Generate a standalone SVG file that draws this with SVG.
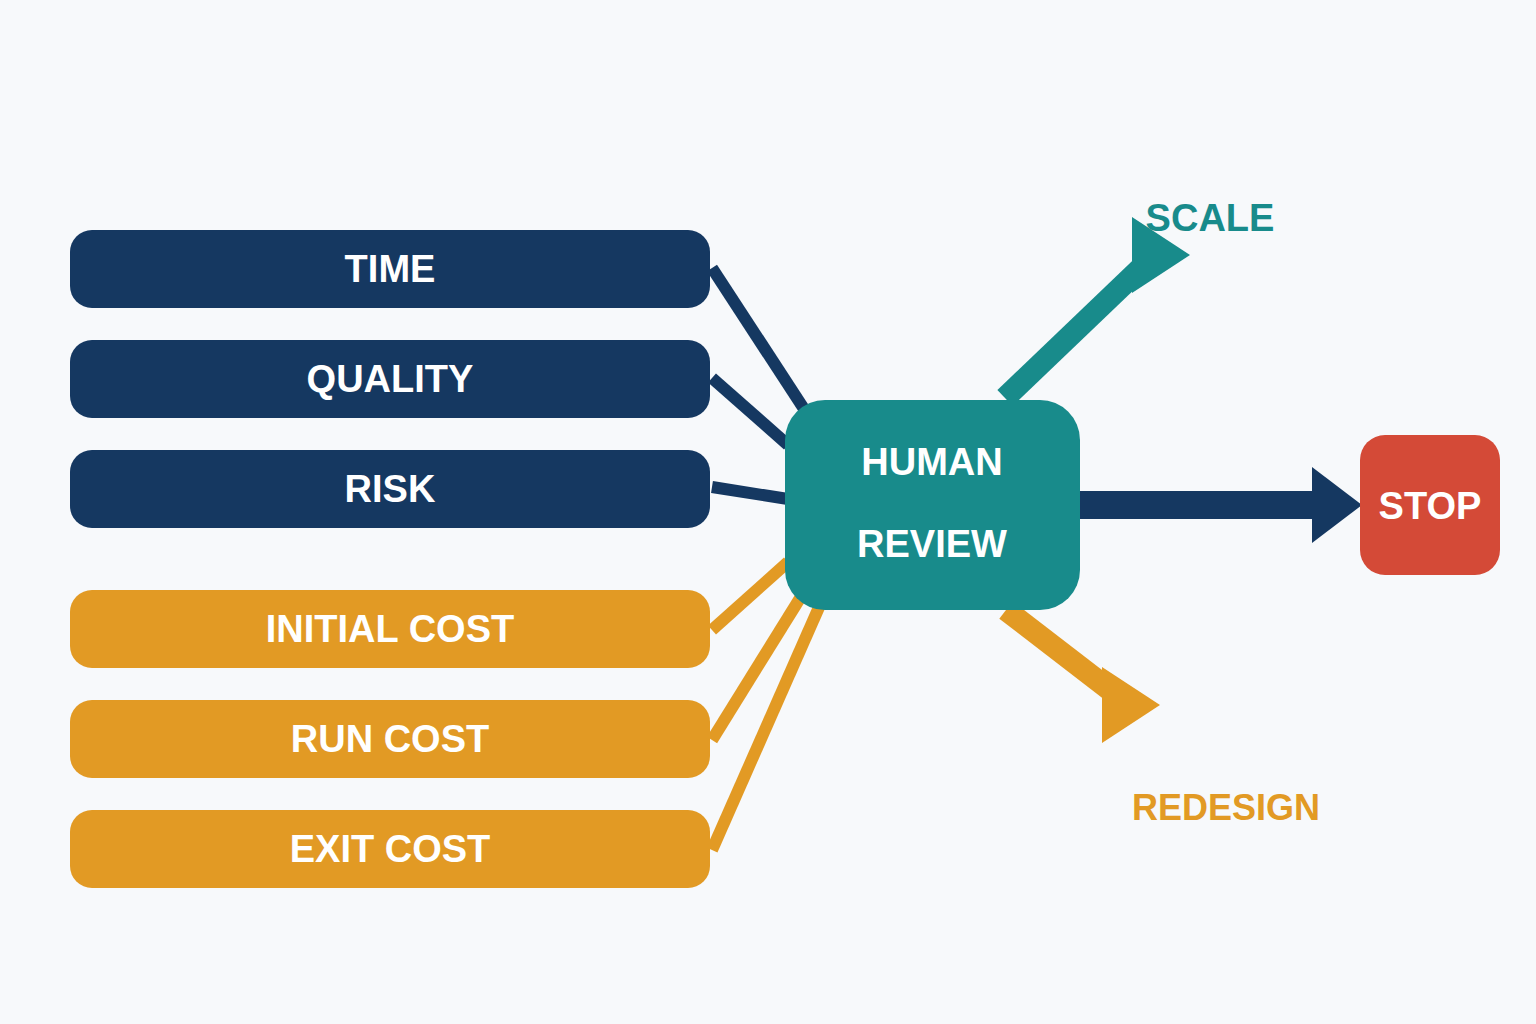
<svg xmlns="http://www.w3.org/2000/svg" width="1536" height="1024" viewBox="0 0 1536 1024">
<style>
text{font-family:"Liberation Sans",Arial,sans-serif;font-weight:bold;text-anchor:middle}
.n{fill:#153861}.o{fill:#e29a24}.w{fill:#fff;font-size:38px}
.ln{stroke:#153861;stroke-width:12}.lo{stroke:#e29a24;stroke-width:12}
</style>
<rect width="1536" height="1024" fill="#f7f9fb"/>
<g id="connectors">
<line class="ln" x1="712" y1="268" x2="806" y2="412"/>
<line class="ln" x1="712" y1="378" x2="788" y2="445"/>
<line class="ln" x1="712" y1="487" x2="788" y2="499"/>
<line class="lo" x1="712" y1="630" x2="788" y2="562"/>
<line class="lo" x1="712" y1="740" x2="802" y2="595"/>
<line class="lo" x1="712" y1="850" x2="820" y2="605"/>
<line x1="1005" y1="398" x2="1145" y2="264" stroke="#188b8b" stroke-width="22"/>
<polygon points="1132,217 1190,255 1132,293" fill="#188b8b"/>
<line x1="1006" y1="610" x2="1110" y2="690" stroke="#e29a24" stroke-width="22"/>
<polygon points="1102,667 1160,705 1102,743" fill="#e29a24"/>
<rect x="1078" y="491" width="240" height="28" fill="#153861"/>
<polygon points="1312,467 1362,505 1312,543" fill="#153861"/>
</g>
<g id="time"><rect class="n" x="70" y="230" width="640" height="78" rx="22"/><text class="w" x="390" y="282">TIME</text></g>
<g id="quality"><rect class="n" x="70" y="340" width="640" height="78" rx="22"/><text class="w" x="390" y="392">QUALITY</text></g>
<g id="risk"><rect class="n" x="70" y="450" width="640" height="78" rx="22"/><text class="w" x="390" y="502">RISK</text></g>
<g id="initial"><rect class="o" x="70" y="590" width="640" height="78" rx="22"/><text class="w" x="390" y="642">INITIAL COST</text></g>
<g id="run"><rect class="o" x="70" y="700" width="640" height="78" rx="22"/><text class="w" x="390" y="752">RUN COST</text></g>
<g id="exit"><rect class="o" x="70" y="810" width="640" height="78" rx="22"/><text class="w" x="390" y="862">EXIT COST</text></g>
<g id="review"><rect x="785" y="400" width="295" height="210" rx="40" fill="#188b8b"/><text class="w" x="932" y="475" font-size="42">HUMAN</text><text class="w" x="932" y="557" font-size="42">REVIEW</text></g>
<g id="stop"><rect x="1360" y="435" width="140" height="140" rx="25" fill="#d44a37"/><text class="w" x="1430" y="519">STOP</text></g>
<g id="scale"><text x="1210" y="231" font-size="38" fill="#188b8b">SCALE</text></g>
<g id="redesign"><text x="1226" y="820" font-size="36" fill="#e29a24">REDESIGN</text></g>
</svg>
